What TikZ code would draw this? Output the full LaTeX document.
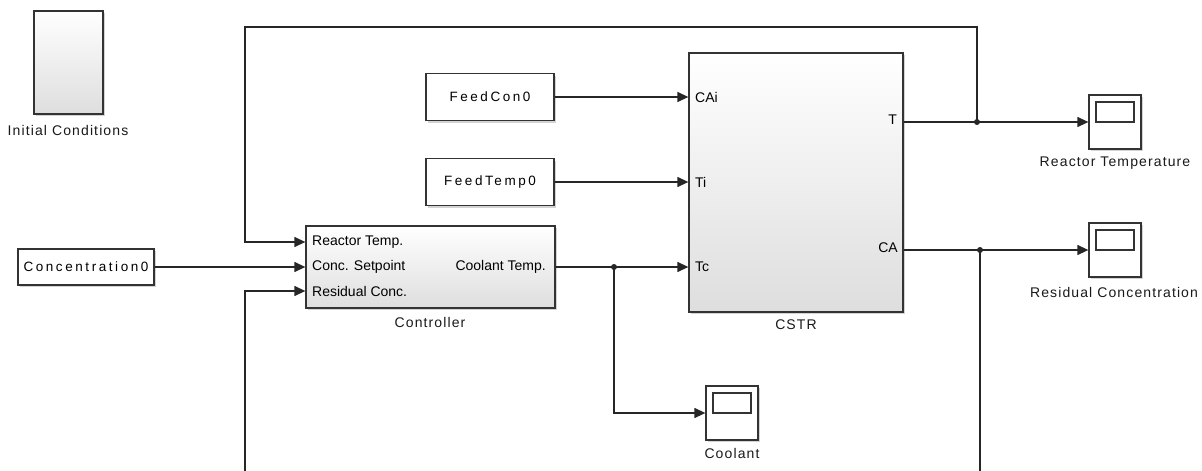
\documentclass[tikz,border=0pt]{standalone}
\usepackage{fontspec}
\setmainfont{Liberation Sans}
\newfontfamily\lblfont[LetterSpace=8]{Liberation Sans}
\newfontfamily\srcfont[LetterSpace=19]{Liberation Sans}
\usetikzlibrary{arrows.meta,shadows}
\begin{document}
\begin{tikzpicture}[x=1pt,y=-1pt,
  blk/.style={draw=black!80, line width=1.3pt, rectangle, inner sep=0pt,
    drop shadow={shadow xshift=2pt,shadow yshift=-2pt,opacity=0.35}},
  src/.style={blk, fill=white, minimum width=128pt, minimum height=47pt,
    font=\srcfont\fontsize{13.5}{16}\selectfont},
  sub/.style={blk, top color=white, bottom color=black!13},
  scopeblk/.style={blk, fill=white, minimum width=52pt, minimum height=54pt},
  scopescreen/.style={draw=black!80, line width=1.3pt, rectangle, inner sep=0pt,
    minimum width=38pt, minimum height=20pt},
  lbl/.style={font=\lblfont\fontsize{14}{16}\selectfont, text=black!90, inner sep=0pt},
  port/.style={font=\fontsize{14}{16}\selectfont, inner sep=0pt},
  wire/.style={line width=1.3pt, draw=black!85},
  sig/.style={wire, -{Triangle[length=11pt,width=10pt]}},
  dot/.style={circle, fill=black!85, inner sep=0pt, minimum size=6pt}
]
\useasboundingbox (0,0) rectangle (1202,471);

% blocks
\node[sub, minimum width=69pt, minimum height=103pt] (init) at (68.5,62.5) {};
\node[lbl] (initl) at (68,130) {Initial Conditions};

\node[src, minimum width=136pt, minimum height=36pt] (conc) at (86,267) {Concentration0};

\node[src] (fc) at (490,97) {FeedCon0};
\node[src] (ft) at (490,182) {FeedTemp0};

\node[sub, minimum width=249pt, minimum height=82pt] (ctrl) at (430.5,267) {};
\node[lbl] (ctrll) at (430,322) {Controller};
\node[port, anchor=west] (prt) at (312,242) {Reactor Temp.};
\node[port, anchor=west] (pcs) at (312,267) {Conc. Setpoint};
\node[port, anchor=west] (prc) at (312,291) {Residual Conc.};
\node[port, anchor=east] (pct) at (546,267) {Coolant Temp.};

\node[sub, minimum width=214pt, minimum height=259pt] (cstr) at (796,182.5) {};
\node[lbl] (cstrl) at (796,325) {CSTR};
\node[port, anchor=west] (pcai) at (695,97) {CAi};
\node[port, anchor=west] (pti) at (695,182) {Ti};
\node[port, anchor=west] (ptc) at (695,267) {Tc};
\node[port, anchor=east] (pt) at (897,120) {T};
\node[port, anchor=east] (pca) at (898,248) {CA};

\node[scopeblk] (srt) at (1115,122) {};
\node[scopescreen] (srts) at (1115,112) {};
\node[lbl] (srtl) at (1115,163) {Reactor Temperature};

\node[scopeblk] (src2) at (1115,250) {};
\node[scopescreen] (src2s) at (1115,240) {};
\node[lbl] (src2l) at (1114,292) {Residual Concentration};

\node[scopeblk] (cool) at (732,413) {};
\node[scopescreen] (cools) at (732,403) {};
\node[lbl] (cooll) at (732,453) {Coolant};

% port coordinates
\coordinate (inrt) at (ctrl.west |- prt.west);
\coordinate (inrc) at (ctrl.west |- prc.west);
\coordinate (j1) at (977,122);
\coordinate (j2) at (980,250);
\coordinate (j3) at (614,267);
\coordinate (tr) at (977,27);
\coordinate (tl) at (245,27);
\coordinate (br) at (980,471);
\coordinate (bl) at (245,471);

% wires
\draw[sig] (fc.east) -- (fc.east -| cstr.west);
\draw[sig] (ft.east) -- (ft.east -| cstr.west);
\draw[sig] (conc.east) -- (conc.east -| ctrl.west);
\draw[sig] (ctrl.east) -- (ctrl.east -| cstr.west);
\draw[sig] (j3) |- (cool.west);
\draw[sig] (srt.west -| cstr.east) -- (srt.west);
\draw[sig] (src2.west -| cstr.east) -- (src2.west);
\draw[sig] (j1) -- (tr) -- (tl) |- (inrt);
\draw[wire] (j2) -- (br);
\draw[sig] (bl) |- (inrc);

\node[dot] at (j1) {};
\node[dot] at (j2) {};
\node[dot] at (j3) {};
\end{tikzpicture}
\end{document}
